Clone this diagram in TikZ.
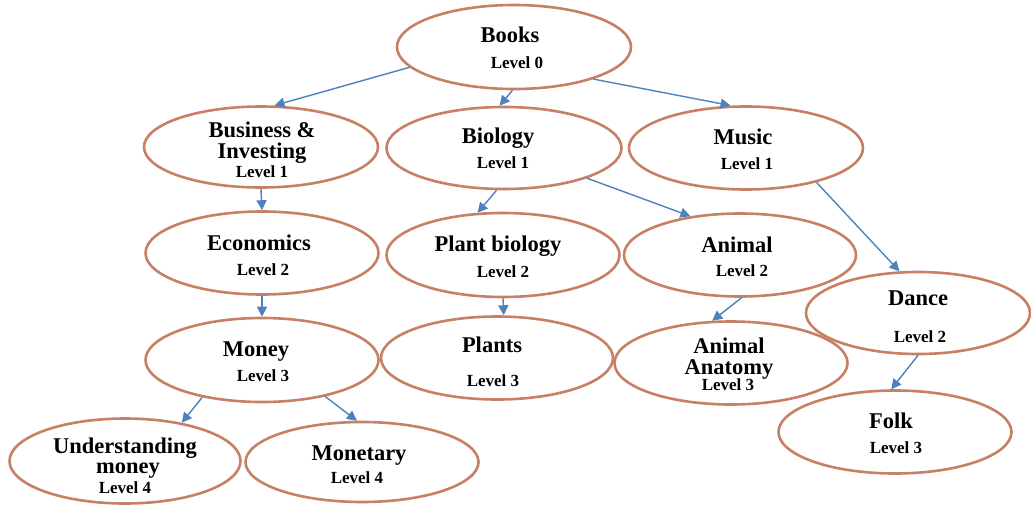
\documentclass[tikz,border=0pt]{standalone}
\usepackage{fontspec}
\setmainfont{Liberation Serif}
\usetikzlibrary{arrows.meta,shapes.geometric}
\definecolor{ellc}{RGB}{199,128,100}
\definecolor{arrc}{RGB}{79,129,189}
\begin{document}
\begin{tikzpicture}[x=1pt,y=-1pt,
  ell/.style={draw=ellc, line width=2.6pt, ellipse, inner sep=0pt, fill=white},
  ttl/.style={font=\bfseries\fontsize{22.5}{24}\selectfont, anchor=base, inner sep=0pt},
  lvl/.style={font=\bfseries\fontsize{17}{18}\selectfont, anchor=base, inner sep=0pt},
  arr/.style={draw=arrc, line width=1.4pt, -{Triangle[length=10pt,width=10pt]}}]
\useasboundingbox[fill=white] (0,0) rectangle (1031,506);
% ellipses
\node[ell, minimum width=234pt, minimum height=84pt] (books)  at (514,47)  {};
\node[ell, minimum width=234pt, minimum height=81pt] (bus)    at (261,147) {};
\node[ell, minimum width=235pt, minimum height=82pt] (bio)    at (504,148) {};
\node[ell, minimum width=234pt, minimum height=83pt] (music)  at (746,148) {};
\node[ell, minimum width=233pt, minimum height=83pt] (econ)   at (262,253) {};
\node[ell, minimum width=233pt, minimum height=84pt] (plant)  at (503,255) {};
\node[ell, minimum width=232pt, minimum height=83pt] (animal) at (740,255) {};
\node[ell, minimum width=224pt, minimum height=82pt] (dance)  at (918,313) {};
\node[ell, minimum width=233pt, minimum height=84pt] (money)  at (262,360) {};
\node[ell, minimum width=232pt, minimum height=83pt] (plants) at (497,358) {};
\node[ell, minimum width=233pt, minimum height=83pt] (anat)   at (731,363) {};
\node[ell, minimum width=233pt, minimum height=83pt] (folk)   at (895,432) {};
\node[ell, minimum width=231pt, minimum height=85pt] (under)  at (125,461) {};
\node[ell, minimum width=233pt, minimum height=80pt] (monet)  at (362,462) {};
% texts
\node[ttl] (booksT) at (510,42) {Books};
\node[lvl] (booksL) at (517,68) {Level 0};
\node[ttl] (busT1) at (262,137) {Business \&};
\node[ttl] (busT2) at (262,158) {Investing};
\node[lvl] (busL) at (262,177) {Level 1};
\node[ttl] (bioT) at (498,143) {Biology};
\node[lvl] (bioL) at (503,168) {Level 1};
\node[ttl] (musicT) at (743,144) {Music};
\node[lvl] (musicL) at (747,169) {Level 1};
\node[ttl] (econT) at (259,250) {Economics};
\node[lvl] (econL) at (263,275) {Level 2};
\node[ttl] (plantT) at (498,251) {Plant biology};
\node[lvl] (plantL) at (503,277) {Level 2};
\node[ttl] (animalT) at (737,252) {Animal};
\node[lvl] (animalL) at (742,276) {Level 2};
\node[ttl] (danceT) at (918,305) {Dance};
\node[lvl] (danceL) at (920,342) {Level 2};
\node[ttl] (moneyT) at (256,356) {Money};
\node[lvl] (moneyL) at (263,381) {Level 3};
\node[ttl] (plantsT) at (492,352) {Plants};
\node[lvl] (plantsL) at (493,386) {Level 3};
\node[ttl] (anatT1) at (729,353) {Animal};
\node[ttl] (anatT2) at (729,374) {Anatomy};
\node[lvl] (anatL) at (728,390) {Level 3};
\node[ttl] (folkT) at (891,428) {Folk};
\node[lvl] (folkL) at (896,453) {Level 3};
\node[ttl] (underT1) at (125,453) {Understanding};
\node[ttl] (underT2) at (128,473) {money};
\node[lvl] (underL) at (125,493) {Level 4};
\node[ttl] (monetT) at (359,460) {Monetary};
\node[lvl] (monetL) at (357,483) {Level 4};
% connectors
\draw[arr] (books.191) -- (bus.72);
\draw[arr] (books.268) -- (bio.96);
\draw[arr] (books.338) -- (music.110);
\draw[arr] (bus.270) -- (econ.90);
\draw[arr] (bio.260) -- (plant.121);
\draw[arr] (bio.340) -- (animal.142);
\draw[arr] (music.334) -- (dance.114);
\draw[arr] (econ.270) -- (money.90);
\draw[arr] (plant.270) -- (plants.81);
\draw[arr] (animal.272) -- (anat.114);
\draw[arr] (dance.270) -- (folk.95);
\draw[arr] (money.212) -- (under.34);
\draw[arr] (money.330) -- (monet.97);
\end{tikzpicture}
\end{document}
